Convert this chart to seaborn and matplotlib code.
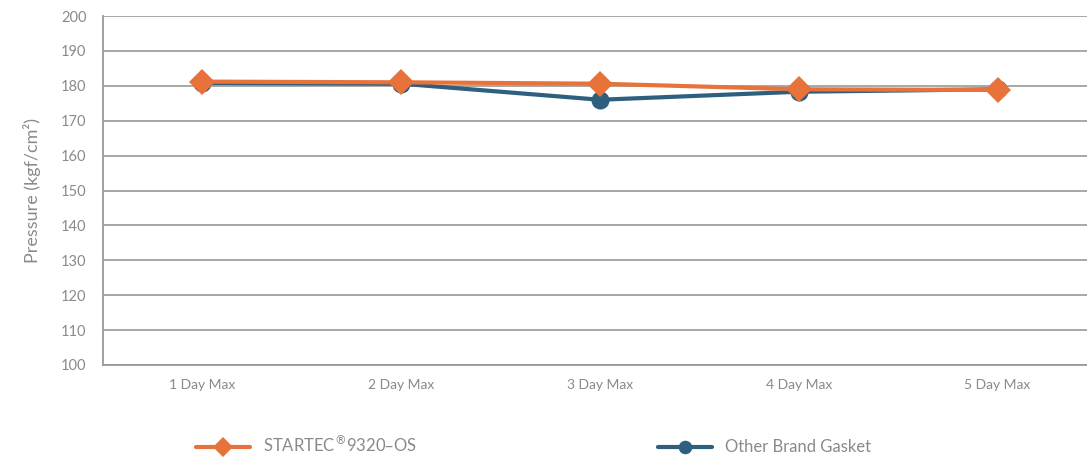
import pandas as pd
import numpy as np
import seaborn as sns
import matplotlib.pyplot as plt

# Values
days = ['1 Day Max', '2 Day Max', '3 Day Max', '4 Day Max', '5 Day Max']
startec = [181.2, 181.0, 180.6, 179.0, 178.8]
other_brand = [180.8, 180.6, 176.0, 178.3, 179.0]
y_ticks = list(range(100, 201, 10))

orange = '#E8733A'
blue = '#2D5F7F'
grey = '#8a8a8a'

sns.set_style('white')
plt.rcParams['font.family'] = ['Lato', 'DejaVu Sans']

fig = plt.figure(figsize=(10.87, 4.57), dpi=100)
ax = fig.add_axes([103 / 1087, 1 - 365 / 457, 994 / 1087, 349 / 457])

df_other = pd.DataFrame({'day': days, 'value': other_brand})
df_star = pd.DataFrame({'day': days, 'value': startec})

sns.lineplot(data=df_other, x='day', y='value', ax=ax, color=blue, linewidth=3,
             marker='o', markersize=13, markeredgewidth=0, sort=False,
             label='Other Brand Gasket', zorder=3)
sns.lineplot(data=df_star, x='day', y='value', ax=ax, color=orange, linewidth=3,
             marker='D', markersize=13, markeredgewidth=0, sort=False,
             label='STARTEC$^{\\circledR}$9320–OS', zorder=4)

ax.set_xlim(-0.5, 4.5)
ax.set_ylim(100, 200)
ax.set_yticks(y_ticks)
ax.set_xticks(np.arange(-0.5, 5, 1), minor=False)
ax.set_xticklabels([])
ax.set_xticks(range(len(days)), minor=True)
ax.set_xticklabels(days, minor=True)
ax.tick_params(axis='x', which='minor', length=0, pad=10, labelsize=10, labelcolor=grey)
ax.tick_params(axis='x', which='major', length=6, width=1.2, color='#999999', direction='out')
ax.tick_params(axis='y', length=6, width=1.2, color='#999999', direction='out',
               labelsize=10.5, labelcolor=grey, pad=6)
ax.yaxis.grid(True, color='#a0a0a0', linewidth=1.3)
ax.set_axisbelow(True)
for side in ['top', 'right']:
    ax.spines[side].set_visible(False)
for side in ['left', 'bottom']:
    ax.spines[side].set_color('#999999')
    ax.spines[side].set_linewidth(1.3)

ax.set_xlabel('')
ax.set_ylabel('Pressure (kgf/cm²)', color=grey, fontsize=13, labelpad=14)

ax.get_legend().remove()
handles, labels = ax.get_legend_handles_labels()
leg = fig.legend(handles[::-1], labels[::-1], ncol=2, loc='center',
                 bbox_to_anchor=(0.491, 1 - 445 / 457), frameon=False,
                 handlelength=3.2, columnspacing=14.5, fontsize=12,
                 labelcolor=grey, markerscale=0.75)

fig.savefig('out.png', dpi=100)
